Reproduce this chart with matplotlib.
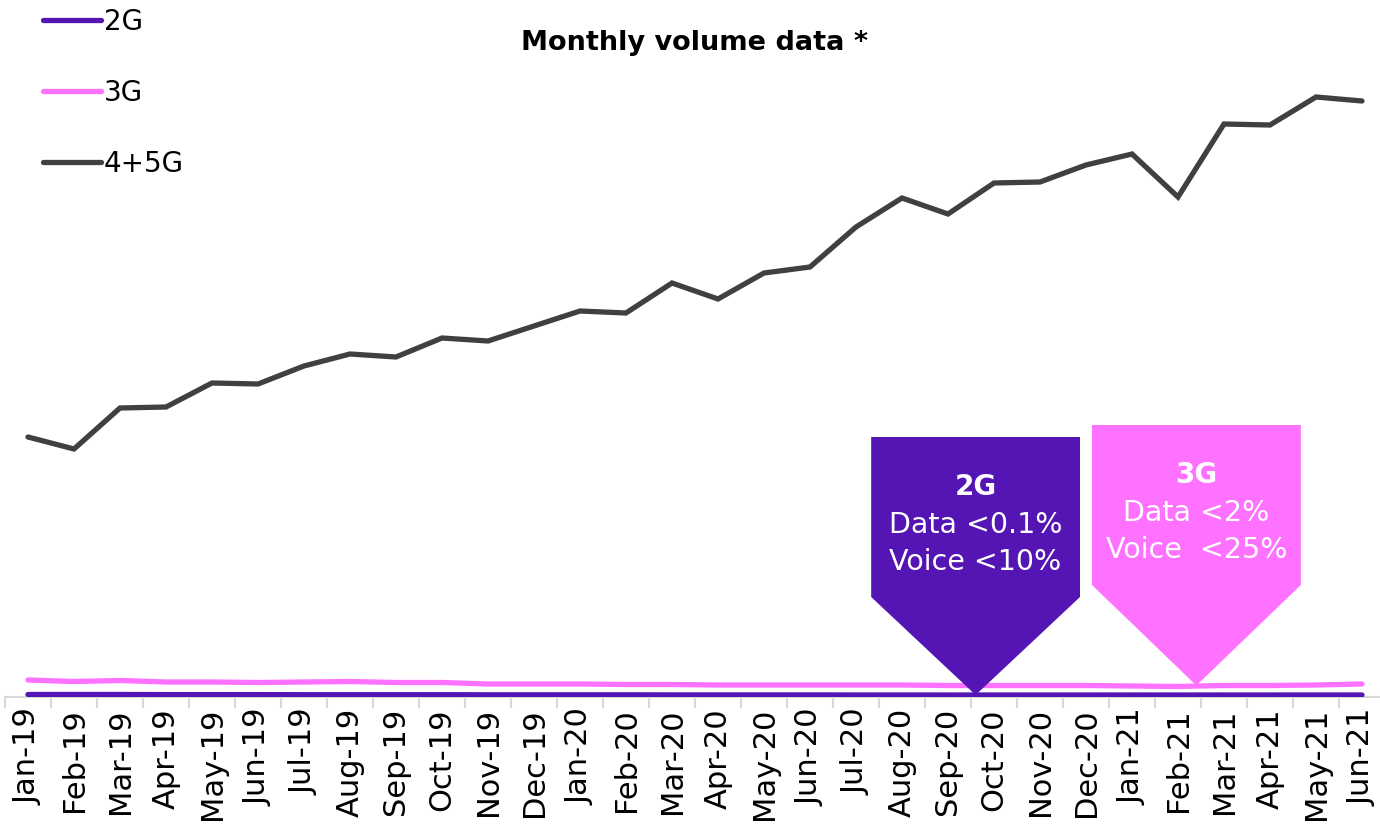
import matplotlib.pyplot as plt
from matplotlib.lines import Line2D

# monthly volume, arbitrary units
months = ["Jan-19", "Feb-19", "Mar-19", "Apr-19", "May-19", "Jun-19",
          "Jul-19", "Aug-19", "Sep-19", "Oct-19", "Nov-19", "Dec-19",
          "Jan-20", "Feb-20", "Mar-20", "Apr-20", "May-20", "Jun-20",
          "Jul-20", "Aug-20", "Sep-20", "Oct-20", "Nov-20", "Dec-20",
          "Jan-21", "Feb-21", "Mar-21", "Apr-21", "May-21", "Jun-21"]
vol_2g = [2.5, 2.5, 2.5, 2.4, 2.4, 2.4, 2.3, 2.3, 2.3, 2.3, 2.2, 2.2,
          2.2, 2.2, 2.1, 2.1, 2.1, 2.1, 2.0, 2.0, 2.0, 2.0, 2.0, 2.0,
          2.0, 2.0, 2.0, 2.0, 2.0, 2.0]
vol_3g = [17, 15.5, 16.5, 15, 15, 14.5, 15, 15.5, 14.5, 14.5, 13, 13,
          13, 12.5, 12.5, 12, 12, 12, 12, 12, 11.5, 11.5, 11.5, 11.5,
          11, 10.5, 11.5, 11.5, 12, 13]
vol_45g = [260, 248, 289, 290, 314, 313, 331, 343, 340, 359, 356, 371,
           386, 384, 414, 398, 424, 430, 470, 499, 483, 514, 515, 532,
           543, 500, 573, 572, 600, 596]

series_names = ["2G", "3G", "4+5G"]
colors = ["#5515b5", "#ff71ff", "#404040"]

fig = plt.figure(figsize=(13.8, 8.3), dpi=100)
ax = fig.add_axes([5 / 1380, 1 - 697 / 830, 1380 / 1380, 697 / 830])

x = list(range(len(months)))
for vals, c, name in zip([vol_2g, vol_3g, vol_45g], colors, series_names):
    ax.plot(x, vals, color=c, lw=3.8, solid_capstyle="round",
            solid_joinstyle="miter", label=name, zorder=3)

ax.set_xlim(-0.5, len(months) - 0.5)
ax.set_ylim(0, 697)

for s in ["top", "right", "left"]:
    ax.spines[s].set_visible(False)
ax.spines["bottom"].set_color("#d9d9d9")
ax.spines["bottom"].set_linewidth(1.5)
ax.set_yticks([])

ax.set_xticks(x)
ax.set_xticklabels(months, rotation=90, fontsize=22)
ax.tick_params(axis="x", length=0, pad=8)
ax.set_xticks([i - 0.5 for i in range(len(months) + 1)], minor=True)
ax.tick_params(axis="x", which="minor", length=8, width=1.5, color="#d9d9d9")


# callout arrows pointing to the 2G and 3G lines
def callout(center, tip_y, top, shoulder, color, head, lines, z):
    half = 2.27
    xs = [center - half, center + half, center + half, center, center - half]
    ys = [top, top, shoulder, tip_y, shoulder]
    ax.fill(xs, ys, color=color, lw=0, zorder=z)
    ax.text(center, top - 50, head, color="white", fontsize=20,
            fontweight="bold", ha="center", va="center", zorder=z + 1)
    for i, t in enumerate(lines):
        ax.text(center, top - 88 - 37 * i, t, color="white", fontsize=20.5,
                ha="center", va="center", zorder=z + 1)


callout(20.6, vol_2g[20], 260, 100, colors[0], "2G",
        ["Data <0.1%", "Voice <10%"], 4)
callout(25.4, vol_3g[25] + 1, 272, 112, colors[1], "3G",
        ["Data <2%", "Voice  <25%"], 4)

fig.text(0.503, 1 - 43 / 830, "Monthly volume data *", fontsize=19.5,
         fontweight="bold", ha="center", va="center")

handles = [Line2D([], [], color=c, lw=3.8, solid_capstyle="round")
           for c in colors]
fig.legend(handles, series_names, loc="upper left",
           bbox_to_anchor=(0.013, 1.021), frameon=False, fontsize=20,
           handlelength=2.1, handletextpad=0.1, labelspacing=1.55)

fig.savefig("out.png", dpi=100)
